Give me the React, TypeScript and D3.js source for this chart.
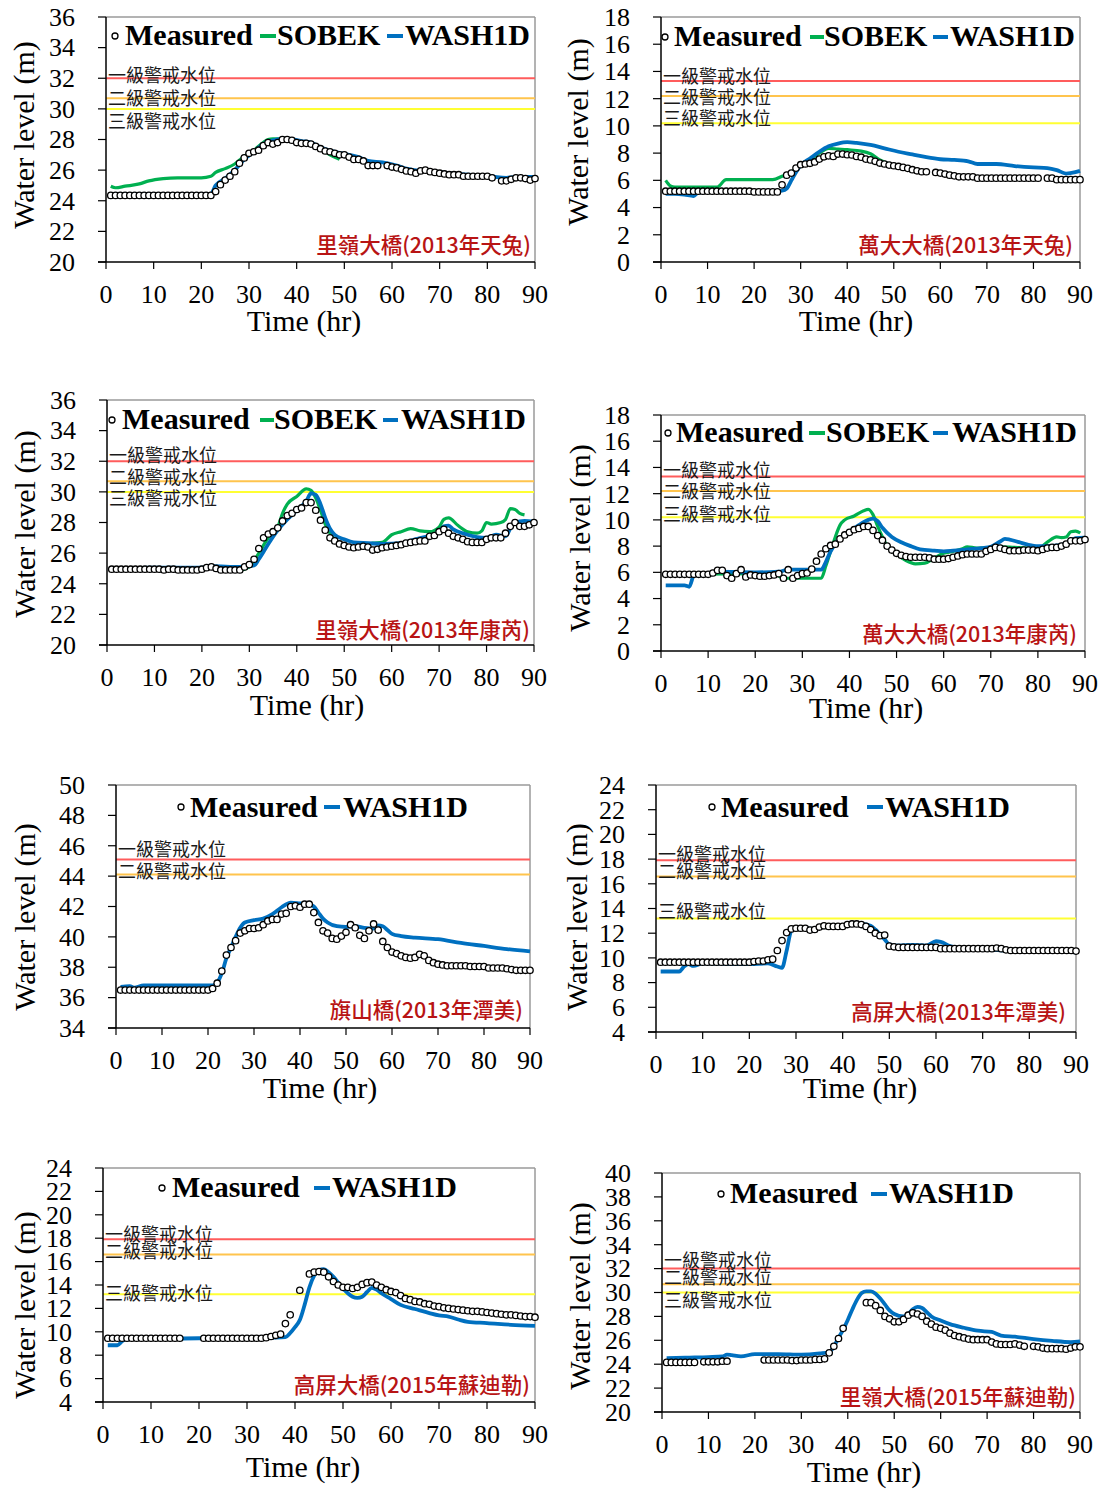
import React from "react";
import * as d3 from "d3";

// hourly time stamps of the measured series (hr 1..90)
const hours = d3.range(1, 91);

// ---------- measured water levels (m), one value per hour, null = missing ----------
const lilingTianto = [
  24.35, 24.35, 24.35, 24.35, 24.35, 24.35, 24.35, 24.35, 24.35, 24.35,
  24.35, 24.35, 24.35, 24.35, 24.35, 24.35, 24.35, 24.35, 24.35, 24.35,
  24.35, 24.35, 24.6, 25.05, 25.35, 25.6, 25.9, 26.45, 26.8, 27.1,
  27.2, 27.3, 27.6, 27.8, 27.7, 27.8, 28.0, 28.0, 27.95, 27.8,
  27.75, 27.75, 27.7, 27.55, 27.4, 27.25, 27.2, 27.1, 27.0, 27.0,
  26.85, 26.7, 26.7, 26.6, 26.3, 26.3, 26.3, null, 26.3, 26.2,
  26.15, 26.05, 25.95, 25.9, 25.8, 25.95, 26.0, 25.9, 25.85, 25.8,
  25.75, 25.7, 25.7, 25.7, 25.6, 25.6, 25.6, 25.6, 25.6, 25.6,
  25.5, null, 25.3, 25.3, 25.4, 25.5, 25.5, 25.45, 25.35, 25.45,
];
const wandaTianto = [
  5.2, 5.2, 5.2, 5.2, 5.2, 5.2, 5.2, 5.2, 5.2, 5.2,
  5.2, 5.2, 5.2, 5.2, 5.2, 5.2, 5.2, 5.2, 5.2, 5.15,
  5.15, 5.15, 5.15, 5.15, 5.15, 5.67, 6.38, 6.53, 6.9, 7.15,
  7.2, 7.25, 7.35, 7.56, 7.73, 7.8, 7.76, 7.93, 7.93, 7.88,
  7.86, 7.76, 7.7, 7.56, 7.5, 7.4, 7.27, 7.2, 7.12, 7.07,
  7.02, 6.95, 6.88, 6.78, 6.7, 6.63, 6.63, null, 6.58, 6.53,
  6.46, 6.38, 6.33, 6.26, 6.26, 6.26, 6.26, 6.16, 6.16, 6.16,
  6.16, 6.16, 6.16, 6.16, 6.16, 6.16, 6.16, 6.16, 6.16, 6.16,
  6.16, null, 6.16, 6.16, 6.05, 6.05, 6.05, 6.05, 6.05, 6.05,
];
const lilingKongrey = [
  24.95, 24.95, 24.95, 24.95, 24.95, 24.95, 24.95, 24.95, 24.95, 24.95,
  24.95, 24.9, 24.95, 24.95, 24.9, 24.9, 24.9, 24.9, 24.9, 24.95,
  25.05, 25.1, 25.0, 24.9, 24.9, 24.9, 24.9, 24.9, 25.1, 25.25,
  25.6, 26.3, 27.0, 27.25, 27.4, 27.65, 28.1, 28.45, 28.6, 28.85,
  28.95, 29.3, 29.3, 28.8, 28.15, 27.5, 27.0, 26.8, 26.6, 26.5,
  26.4, 26.35, 26.4, 26.45, 26.4, 26.2, 26.25, 26.35, 26.4, 26.45,
  26.5, 26.55, 26.65, 26.7, 26.75, 26.8, 26.8, 27.1, 27.15, 27.4,
  27.55, 27.3, 27.1, 27.0, 26.9, 26.75, 26.7, 26.7, 26.7, 26.9,
  27.0, 27.0, 27.0, 27.3, 27.75, 28.0, 27.75, 27.75, 27.85, 28.0,
];
const wandaKongrey = [
  5.85, 5.85, 5.85, 5.85, 5.85, 5.85, 5.85, 5.85, 5.85, 5.85,
  5.95, 6.15, 6.15, 5.75, 5.55, 5.9, 6.2, 5.65, 5.8, 5.75,
  5.7, 5.7, 5.75, 5.8, 5.9, 5.55, 6.2, 5.55, 5.75, 5.9,
  5.95, 6.25, 6.85, 7.4, 7.8, 8.05, 8.15, 8.55, 8.85, 9.05,
  9.25, 9.35, 9.5, 9.5, 9.2, 8.8, 8.45, 8.0, 7.7, 7.45,
  7.3, 7.2, 7.15, 7.15, 7.15, 7.15, 7.1, 7.0, 7.0, 7.0,
  7.05, 7.15, 7.25, 7.35, 7.4, 7.4, 7.4, 7.4, 7.6, 7.75,
  7.9, 7.85, 7.75, 7.65, 7.65, 7.65, 7.7, 7.7, 7.7, 7.65,
  7.75, 7.85, 7.9, 7.9, 8.0, 8.15, 8.4, 8.4, 8.4, 8.5,
];
const qishanUsagi = [
  36.5, 36.5, 36.5, 36.5, 36.5, 36.5, 36.5, 36.5, 36.5, 36.5,
  36.5, 36.5, 36.5, 36.5, 36.5, 36.5, 36.5, 36.5, 36.5, 36.5,
  36.6, 36.95, 37.75, 38.8, 39.3, 39.75, 40.25, 40.4, 40.55, 40.55,
  40.6, 40.8, 41.05, 41.15, 41.15, 41.5, 41.55, 42.0, 42.05, 41.95,
  42.15, 42.15, 41.6, 40.95, 40.4, 40.25, 39.9, 39.85, 40.05, 40.3,
  40.8, 40.6, 40.1, 39.9, 40.4, 40.85, 40.45, 39.7, 39.3, 39.0,
  38.9, 38.75, 38.65, 38.6, 38.65, 38.85, 38.75, 38.45, 38.3, 38.2,
  38.15, 38.1, 38.1, 38.1, 38.1, 38.1, 38.05, 38.05, 38.05, 38.05,
  37.95, 37.95, 37.95, 37.95, 37.9, 37.85, 37.8, 37.8, 37.8, 37.8,
];
const gaopingUsagi = [
  9.65, 9.65, 9.65, 9.65, 9.65, 9.65, 9.65, 9.65, 9.65, 9.65,
  9.65, 9.65, 9.65, 9.65, 9.65, 9.65, 9.65, 9.65, 9.65, 9.65,
  9.7, 9.75, 9.75, 9.85, 9.9, 10.6, 11.4, 12.05, 12.35, 12.4,
  12.4, 12.4, 12.25, 12.3, 12.5, 12.6, 12.55, 12.55, 12.55, 12.55,
  12.7, 12.75, 12.75, 12.7, 12.55, 12.3, 12.0, 11.8, 11.85, 10.95,
  10.9, 10.85, 10.85, 10.85, 10.85, 10.85, 10.85, 10.85, 10.85, 10.85,
  10.75, 10.75, 10.75, 10.75, 10.75, 10.75, 10.75, 10.75, 10.75, 10.75,
  10.75, 10.75, 10.8, 10.75, 10.65, 10.6, 10.6, 10.6, 10.6, 10.6,
  10.6, 10.6, 10.6, 10.6, 10.6, 10.6, 10.6, 10.6, 10.6, 10.55,
];
const gaopingSoudelor = [
  9.45, 9.45, 9.45, 9.45, 9.45, 9.45, 9.45, 9.45, 9.45, 9.45,
  9.45, 9.45, 9.45, 9.45, 9.45, 9.45, null, null, null, null,
  9.45, 9.45, 9.45, 9.45, 9.45, 9.45, 9.45, 9.45, 9.45, 9.45,
  9.45, 9.45, 9.45, 9.5, 9.6, 9.7, 9.8, 10.7, 11.45, null,
  13.55, null, 14.95, 15.1, 15.15, 15.1, 14.7, 14.3, 14.0, 13.8,
  13.8, 13.7, 13.8, 14.05, 14.2, 14.25, 14.0, 13.8, 13.6, 13.45,
  13.35, 13.1, 12.85, 12.75, 12.6, 12.55, 12.4, 12.35, 12.2, 12.15,
  12.05, 12.0, 11.95, 11.9, 11.85, 11.8, 11.75, 11.75, 11.7, 11.65,
  11.6, 11.55, 11.5, 11.45, 11.45, 11.4, 11.35, 11.3, 11.3, 11.25,
];
const lilingSoudelor = [
  24.15, 24.15, 24.15, 24.15, 24.15, 24.15, 24.15, null, 24.2, 24.2,
  24.2, 24.2, 24.25, 24.25, null, null, null, null, null, null,
  null, 24.35, 24.35, 24.35, 24.35, 24.35, 24.35, 24.3, 24.3, 24.35,
  24.35, 24.35, 24.4, 24.4, 24.45, 24.95, 25.5, 26.15, 27.0, null,
  null, null, null, 29.15, 29.15, 28.9, 28.5, 28.0, 27.8, 27.55,
  27.55, 27.75, 28.1, 28.3, 28.2, 28.0, 27.6, 27.35, 27.1, 27.0,
  26.85, 26.6, 26.4, 26.3, 26.2, 26.1, 26.05, 26.05, 26.05, 26.05,
  25.85, 25.7, 25.65, 25.65, 25.65, 25.7, 25.6, 25.5, null, 25.5,
  25.45, 25.35, 25.3, 25.3, 25.3, 25.3, 25.25, 25.35, 25.45, 25.45,
];

// ---------- simulated series, [hour, level] ----------
const sobekLilingTianto = [[1, 24.95], [2, 24.85], [4, 24.95], [7, 25.1], [9, 25.3], [12, 25.45], [15, 25.5], [20, 25.5], [22, 25.6], [23, 25.85], [25, 26.1], [27, 26.4], [29, 26.9], [31, 27.3], [33, 27.8], [34, 28.0], [35, 28.05], [37, 28.05], [40, 27.85], [43, 27.7], [45, 27.4], [47, 27.0], [49, 26.7]];
const washLilingTianto = [[1, 24.45], [22, 24.45], [23, 25.0], [25, 25.45], [27, 26.0], [29, 26.7], [31, 27.2], [33, 27.7], [36, 28.0], [38, 28.05], [41, 27.9], [43, 27.8], [45, 27.5], [48, 27.2], [51, 27.0], [53, 26.85], [55, 26.6], [58, 26.5], [61, 26.3], [63, 26.1], [66, 25.95], [69, 25.9], [72, 25.8], [76, 25.7], [80, 25.65], [82, 25.55], [84, 25.5], [86, 25.55], [90, 25.55]];

const sobekWandaTianto = [[1, 6.0], [2, 5.6], [3, 5.5], [12, 5.5], [14, 6.05], [24, 6.05], [26, 6.3], [28, 6.6], [30, 7.1], [32, 7.5], [34, 8.0], [36, 8.35], [38, 8.3], [40, 8.25], [43, 8.15], [45, 7.95], [47, 7.5], [49, 7.2]];
const washWandaTianto = [[1, 5.0], [3, 5.0], [5, 4.95], [7, 4.85], [8, 5.1], [10, 5.15], [20, 5.15], [24, 5.2], [26, 5.25], [27, 5.4], [28, 6.0], [29, 6.6], [30, 7.1], [32, 7.6], [34, 8.1], [36, 8.5], [38, 8.7], [40, 8.8], [42, 8.75], [45, 8.6], [48, 8.35], [51, 8.1], [54, 7.9], [57, 7.7], [60, 7.55], [63, 7.5], [66, 7.4], [68, 7.2], [72, 7.2], [76, 7.05], [80, 6.95], [83, 6.9], [85, 6.75], [87, 6.5], [89, 6.6], [90, 6.7]];

const sobekLilingKongrey = [[1, 24.9], [20, 24.95], [22, 25.1], [24, 24.9], [28, 24.9], [30, 25.1], [32, 26.0], [34, 27.0], [36, 27.7], [37, 28.6], [38, 29.2], [40, 29.7], [42, 30.2], [43, 30.1], [44, 29.6], [45, 28.8], [46, 27.9], [47, 27.3], [48, 26.9], [50, 26.5], [52, 26.3], [54, 26.4], [56, 26.65], [58, 26.7], [60, 27.2], [62, 27.4], [64, 27.6], [66, 27.45], [68, 27.4], [70, 27.7], [71, 28.2], [72, 28.3], [74, 27.8], [76, 27.4], [78, 27.3], [79, 27.45], [80, 28.0], [81, 27.9], [83, 28.0], [84, 28.2], [85, 28.9], [86, 28.85], [87, 28.6], [88, 28.5]];
const washLilingKongrey = [[1, 24.95], [9, 25.05], [20, 25.05], [22, 25.15], [28, 25.1], [31, 25.2], [32, 25.6], [34, 26.6], [36, 27.5], [38, 28.2], [40, 28.8], [42, 29.4], [43, 29.9], [44, 29.8], [45, 29.2], [46, 28.3], [47, 27.6], [48, 27.2], [50, 26.9], [52, 26.7], [55, 26.65], [58, 26.6], [62, 26.65], [65, 26.9], [68, 27.15], [70, 27.4], [71, 27.75], [72, 27.8], [73, 27.55], [75, 27.3], [78, 27.05], [80, 27.0], [82, 27.2], [84, 27.1], [85, 27.6], [86, 28.0], [88, 28.1], [90, 28.05]];

const sobekWandaKongrey = [[1, 5.85], [24, 5.9], [26, 5.55], [34, 5.55], [35, 6.5], [36, 7.6], [37, 8.7], [38, 9.6], [39, 10.0], [41, 10.3], [43, 10.7], [44, 10.8], [45, 10.4], [46, 9.5], [47, 8.7], [48, 8.0], [50, 7.4], [52, 6.9], [54, 6.65], [56, 6.7], [58, 7.1], [60, 7.45], [62, 7.6], [64, 7.8], [65, 7.95], [67, 7.85], [70, 7.9], [72, 7.95], [75, 7.9], [78, 7.85], [80, 7.8], [82, 8.3], [84, 8.7], [85, 8.65], [86, 8.7], [87, 9.1], [88, 9.15], [89, 9.0]];
const washWandaKongrey = [[1, 5.0], [5, 5.0], [6, 4.9], [7, 5.8], [8, 5.9], [10, 5.9], [12, 6.05], [20, 6.0], [25, 6.05], [27, 6.2], [34, 6.2], [35, 6.8], [36, 7.6], [38, 8.6], [40, 9.1], [42, 9.6], [44, 10.0], [45, 10.1], [46, 9.9], [47, 9.4], [49, 8.7], [51, 8.3], [53, 8.0], [55, 7.75], [58, 7.65], [60, 7.6], [62, 7.65], [65, 7.75], [68, 7.85], [70, 7.95], [72, 8.35], [73, 8.55], [74, 8.5], [76, 8.3], [78, 8.1], [80, 8.0], [82, 8.0], [84, 8.05], [86, 8.2], [88, 8.6], [90, 8.65]];

const washQishanUsagi = [[1, 36.7], [3, 36.75], [4, 36.65], [6, 36.8], [21, 36.8], [22, 37.0], [23, 37.6], [24, 38.6], [25, 39.3], [26, 40.0], [27, 40.6], [28, 40.95], [30, 41.1], [32, 41.2], [34, 41.5], [36, 41.95], [38, 42.25], [40, 42.2], [42, 42.15], [43, 42.0], [44, 41.6], [45, 41.2], [46, 40.95], [48, 40.7], [50, 40.65], [52, 40.7], [54, 40.6], [56, 40.55], [57, 40.75], [58, 40.7], [59, 40.45], [60, 40.2], [62, 40.05], [65, 39.95], [70, 39.85], [75, 39.6], [80, 39.4], [85, 39.2], [90, 39.05]];
const washGaopingUsagi = [[1, 8.9], [5, 8.9], [6, 9.3], [7, 9.5], [8, 9.35], [10, 9.55], [20, 9.5], [24, 9.55], [26, 9.3], [27, 9.2], [28, 10.6], [29, 12.2], [30, 12.4], [32, 12.4], [34, 12.35], [36, 12.5], [38, 12.45], [40, 12.55], [42, 12.7], [44, 12.75], [46, 12.6], [47, 12.3], [48, 11.9], [49, 11.5], [50, 11.1], [52, 11.0], [55, 11.05], [58, 11.0], [60, 11.35], [61, 11.3], [63, 10.95], [66, 10.75], [70, 10.7], [75, 10.6], [80, 10.55], [85, 10.55], [90, 10.45]];
const washGaopingSoudelor = [[1, 8.85], [3, 8.85], [4, 9.2], [5, 9.4], [10, 9.4], [20, 9.45], [30, 9.45], [35, 9.5], [38, 9.55], [39, 9.9], [40, 10.4], [41, 11.0], [42, 12.3], [43, 13.8], [44, 14.8], [45, 15.25], [46, 15.35], [47, 15.1], [48, 14.7], [49, 14.2], [50, 13.7], [51, 13.3], [52, 13.0], [53, 12.9], [54, 13.0], [55, 13.4], [56, 13.75], [57, 13.6], [58, 13.3], [60, 12.8], [62, 12.3], [65, 11.95], [68, 11.6], [70, 11.4], [72, 11.3], [74, 11.05], [76, 10.85], [80, 10.75], [85, 10.6], [90, 10.5]];
const washLilingSoudelor = [[1, 24.5], [5, 24.55], [10, 24.6], [13, 24.65], [14, 24.8], [15, 24.75], [17, 24.65], [20, 24.85], [25, 24.85], [30, 24.8], [34, 24.9], [36, 25.0], [37, 25.5], [38, 26.2], [39, 26.9], [40, 27.7], [41, 28.6], [42, 29.4], [43, 29.95], [44, 30.1], [45, 30.1], [46, 29.9], [47, 29.5], [48, 29.0], [49, 28.5], [50, 28.2], [52, 28.0], [53, 28.2], [54, 28.6], [55, 28.8], [56, 28.7], [57, 28.35], [58, 28.0], [60, 27.65], [62, 27.35], [65, 27.05], [68, 26.8], [71, 26.7], [73, 26.4], [76, 26.3], [80, 26.1], [84, 25.95], [88, 25.85], [90, 25.9]];

// warning levels (m): level 1, 2, 3
const warnLiling = [32, 30.7, 30];
const warnWanda = [13.3, 12.2, 10.2];
const warnQishan = [45.1, 44.1];
const warnGaoping = [17.9, 16.6, 13.2];
const warnNames = ["一級警戒水位", "二級警戒水位", "三級警戒水位"];

const RED = "#ff5c5c";
const ORANGE = "#ffc44d";
const YELLOW = "#ffff33";
const warnColors = [RED, ORANGE, YELLOW];
const GREEN = "#00b050";
const BLUE = "#0070c0";
const STATION = "#b81414";
const SERIF = "'Liberation Serif', 'Times New Roman', serif";
const CJK = "'Noto Sans CJK TC', 'Noto Sans CJK SC', sans-serif";

// layout: plot box [left, top, right, bottom] and text placements in page px
const panels = [
  {
    station: "里嶺大橋(2013年天兔)", domain: [20, 36], box: [106, 17, 535, 262],
    measured: lilingTianto, sobek: sobekLilingTianto, wash: washLilingTianto,
    warn: warnLiling, warnY: [74, 97, 120],
    legend: { base: 45, cy: 36, circle: 115, meas: 125, gDash: [260, 276], sobek: 277, bDash: [387, 403], wash: 405 },
    stationPos: [531, 243], xTitle: [304, 331], yTitle: [34, 135],
  },
  {
    station: "萬大大橋(2013年天兔)", domain: [0, 18], box: [661, 17, 1080, 262],
    measured: wandaTianto, sobek: sobekWandaTianto, wash: washWandaTianto,
    warn: warnWanda, warnY: [75, 96, 117],
    legend: { base: 46, cy: 37, circle: 665, meas: 674, gDash: [810, 824], sobek: 824, bDash: [933, 948], wash: 950 },
    stationPos: [1073, 243], xTitle: [856, 331], yTitle: [588, 132],
  },
  {
    station: "里嶺大橋(2013年康芮)", domain: [20, 36], box: [107, 400, 534, 645],
    measured: lilingKongrey, sobek: sobekLilingKongrey, wash: washLilingKongrey,
    warn: warnLiling, warnY: [454, 476, 497],
    legend: { base: 429, cy: 420, circle: 112, meas: 122, gDash: [260, 274], sobek: 274, bDash: [383, 398], wash: 401 },
    stationPos: [530, 628], xTitle: [307, 715], yTitle: [35, 524],
  },
  {
    station: "萬大大橋(2013年康芮)", domain: [0, 18], box: [661, 415, 1085, 651],
    measured: wandaKongrey, sobek: sobekWandaKongrey, wash: washWandaKongrey,
    warn: warnWanda, warnY: [469, 490, 513],
    legend: { base: 442, cy: 433, circle: 668, meas: 676, gDash: [809, 825], sobek: 826, bDash: [933, 948], wash: 952 },
    stationPos: [1077, 632], xTitle: [866, 718], yTitle: [590, 538],
  },
  {
    station: "旗山橋(2013年潭美)", domain: [34, 50], box: [116, 785, 530, 1028],
    measured: qishanUsagi, sobek: null, wash: washQishanUsagi,
    warn: warnQishan, warnY: [848, 870],
    legend: { base: 817, cy: 807, circle: 181, meas: 190, bDash: [324, 340], wash: 343 },
    stationPos: [523, 1008], xTitle: [320, 1098], yTitle: [35, 917],
  },
  {
    station: "高屏大橋(2013年潭美)", domain: [4, 24], box: [656, 785, 1076, 1032],
    measured: gaopingUsagi, sobek: null, wash: washGaopingUsagi,
    warn: warnGaoping, warnY: [853, 870, 910],
    legend: { base: 817, cy: 807, circle: 712, meas: 721, bDash: [867, 883], wash: 885 },
    stationPos: [1066, 1010], xTitle: [860, 1098], yTitle: [587, 917],
  },
  {
    station: "高屏大橋(2015年蘇迪勒)", domain: [4, 24], box: [103, 1168, 535, 1402],
    measured: gaopingSoudelor, sobek: null, wash: washGaopingSoudelor,
    warn: warnGaoping, warnY: [1233, 1250, 1292],
    legend: { base: 1197, cy: 1188, circle: 162, meas: 172, bDash: [314, 330], wash: 332 },
    stationPos: [530, 1383], xTitle: [303, 1477], yTitle: [35, 1305],
  },
  {
    station: "里嶺大橋(2015年蘇迪勒)", domain: [20, 40], box: [662, 1173, 1080, 1412],
    measured: lilingSoudelor, sobek: null, wash: washLilingSoudelor,
    warn: warnLiling, warnY: [1259, 1276, 1299],
    legend: { base: 1203, cy: 1194, circle: 721, meas: 730, bDash: [871, 887], wash: 889 },
    stationPos: [1076, 1395], xTitle: [864, 1482], yTitle: [590, 1296],
  },
];

function Panel({ p }) {
  const [left, top, right, bottom] = p.box;
  const x = d3.scaleLinear().domain([0, 90]).range([left, right]);
  const y = d3.scaleLinear().domain(p.domain).range([bottom, top]);
  const line = d3.line().x((d) => x(d[0])).y((d) => y(d[1])).curve(d3.curveMonotoneX);
  const yTicks = d3.range(p.domain[0], p.domain[1] + 0.01, 2);
  const xTicks = d3.range(0, 91, 10);
  const pts = hours.map((t, i) => [t, p.measured[i]]).filter((d) => d[1] != null);
  const lg = p.legend;

  return (
    <g>
      {/* frame */}
      <line x1={left} x2={right} y1={top} y2={top} stroke="#9a9a9a" strokeWidth={1.5} />
      <line x1={right} x2={right} y1={top} y2={bottom} stroke="#9a9a9a" strokeWidth={1.5} />

      {/* warning levels */}
      {p.warn.map((w, i) => (
        <line key={"w" + i} x1={left} x2={right} y1={y(w)} y2={y(w)} stroke={warnColors[i]} strokeWidth={2} />
      ))}
      {p.warn.map((w, i) => (
        <text key={"wl" + i} x={left + 2} y={p.warnY[i]} dominantBaseline="central"
          fontFamily={CJK} fontSize={18} fill="#1a1a1a">{warnNames[i]}</text>
      ))}

      {/* axes */}
      <line x1={left} x2={left} y1={top} y2={bottom} stroke="#000" strokeWidth={1.5} />
      <line x1={left - 8} x2={right} y1={bottom} y2={bottom} stroke="#000" strokeWidth={1.5} />
      {yTicks.map((v) => (
        <g key={"y" + v}>
          <line x1={left - 8} x2={left} y1={y(v)} y2={y(v)} stroke="#000" strokeWidth={1.2} />
          <text x={left - 31} y={y(v)} dy="0.34em" textAnchor="end" fontFamily={SERIF} fontSize={26}>{v}</text>
        </g>
      ))}
      {xTicks.map((v) => (
        <g key={"x" + v}>
          <line x1={x(v)} x2={x(v)} y1={bottom} y2={bottom + 7} stroke="#000" strokeWidth={1.2} />
          <text x={x(v)} y={bottom + 41} textAnchor="middle" fontFamily={SERIF} fontSize={26}>{v}</text>
        </g>
      ))}
      <text x={p.xTitle[0]} y={p.xTitle[1]} textAnchor="middle" fontFamily={SERIF} fontSize={30}>Time (hr)</text>
      <text transform={`translate(${p.yTitle[0]},${p.yTitle[1]}) rotate(-90)`} textAnchor="middle"
        fontFamily={SERIF} fontSize={30}>Water level (m)</text>

      {/* series */}
      {p.sobek && <path d={line(p.sobek)} fill="none" stroke={GREEN} strokeWidth={3.2} />}
      <path d={line(p.wash)} fill="none" stroke={BLUE} strokeWidth={3.8} />
      {pts.map((d) => (
        <circle key={"m" + d[0]} cx={x(d[0])} cy={y(d[1])} r={3.2} fill="#fff" stroke="#000" strokeWidth={1.3} />
      ))}

      {/* station label */}
      <text x={p.stationPos[0]} y={p.stationPos[1]} dominantBaseline="central" textAnchor="end"
        fontFamily={CJK} fontSize={21.5} fontWeight={500} fill={STATION}>{p.station}</text>

      {/* legend */}
      <circle cx={lg.circle} cy={lg.cy} r={3} fill="#fff" stroke="#000" strokeWidth={1.3} />
      <text x={lg.meas} y={lg.base} fontFamily={SERIF} fontWeight="bold" fontSize={30}>Measured</text>
      {p.sobek && (
        <g>
          <line x1={lg.gDash[0]} x2={lg.gDash[1]} y1={lg.cy} y2={lg.cy} stroke={GREEN} strokeWidth={4} />
          <text x={lg.sobek} y={lg.base} fontFamily={SERIF} fontWeight="bold" fontSize={30}>SOBEK</text>
        </g>
      )}
      <line x1={lg.bDash[0]} x2={lg.bDash[1]} y1={lg.cy} y2={lg.cy} stroke={BLUE} strokeWidth={4} />
      <text x={lg.wash} y={lg.base} fontFamily={SERIF} fontWeight="bold" fontSize={30}>WASH1D</text>
    </g>
  );
}

export default function App() {
  return (
    <svg width={1105} height={1490} style={{ position: "absolute", left: 0, top: 0, background: "#fff" }}>
      <rect width={1105} height={1490} fill="#fff" />
      {panels.map((p, i) => (
        <Panel key={i} p={p} />
      ))}
    </svg>
  );
}
